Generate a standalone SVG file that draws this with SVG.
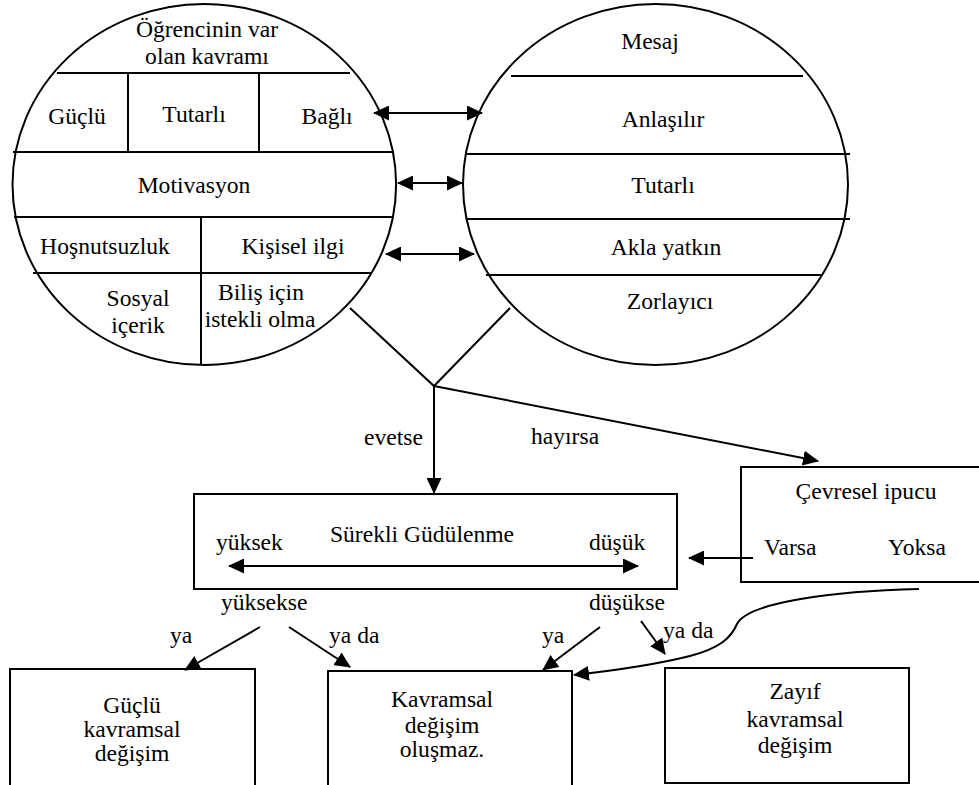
<svg xmlns="http://www.w3.org/2000/svg" width="979" height="785" viewBox="0 0 979 785" font-family="Liberation Serif, serif">
<style>
text{font-family:'Liberation Serif','Times New Roman',serif;font-size:23.6px;fill:#000}
.m{text-anchor:middle}
.ln{stroke:#000;stroke-width:2;fill:none}
.ar{stroke:#000;stroke-width:2;fill:none;marker-end:url(#ah)}
.da{stroke:#000;stroke-width:2;fill:none;marker-start:url(#ah);marker-end:url(#ah)}
</style>
<defs>
<marker id="ah" markerUnits="userSpaceOnUse" markerWidth="16" markerHeight="15" refX="15" refY="7.5" orient="auto-start-reverse">
<path d="M0,0 L16,7.5 L0,15 Z" fill="#000"/>
</marker>
</defs>
<rect width="979" height="785" fill="#fff"/>

<g id="left-circle">
<ellipse class="ln" cx="204.3" cy="184.5" rx="191.8" ry="180.5"/>
<line class="ln" x1="57" y1="73" x2="350" y2="73"/>
<line class="ln" x1="128" y1="73" x2="128" y2="152"/>
<line class="ln" x1="259" y1="73" x2="259" y2="152"/>
<line class="ln" x1="13" y1="152" x2="392" y2="152"/>
<line class="ln" x1="14" y1="217" x2="392" y2="217"/>
<line class="ln" x1="201" y1="217" x2="201" y2="365"/>
<line class="ln" x1="33" y1="273" x2="372" y2="273"/>
<text class="m" x="207" y="37">Öğrencinin var</text>
<text class="m" x="207" y="64">olan kavramı</text>
<text class="m" x="77" y="124">Güçlü</text>
<text class="m" x="194" y="122">Tutarlı</text>
<text class="m" x="327" y="124">Bağlı</text>
<text class="m" x="194" y="193">Motivasyon</text>
<text class="m" x="105" y="254">Hoşnutsuzluk</text>
<text class="m" x="293" y="254">Kişisel ilgi</text>
<text class="m" x="138" y="306">Sosyal</text>
<text class="m" x="138" y="333">içerik</text>
<text class="m" x="261" y="300">Biliş için</text>
<text class="m" x="260" y="327">istekli olma</text>
</g>

<g id="right-circle">
<ellipse class="ln" cx="655.5" cy="184.5" rx="192.5" ry="180.5"/>
<line class="ln" x1="511" y1="76" x2="803" y2="76"/>
<line class="ln" x1="466" y1="154" x2="850" y2="154"/>
<line class="ln" x1="466" y1="219" x2="850" y2="219"/>
<line class="ln" x1="486" y1="275" x2="821" y2="275"/>
<text class="m" x="650" y="49">Mesaj</text>
<text class="m" x="663" y="127">Anlaşılır</text>
<text class="m" x="663" y="193">Tutarlı</text>
<text class="m" x="666" y="255">Akla yatkın</text>
<text class="m" x="670" y="309">Zorlayıcı</text>
</g>

<g id="surekli-gudulenme">
<rect class="ln" x="194" y="494" width="483" height="95"/>
<text class="m" x="422" y="542">Sürekli Güdülenme</text>
<text x="216" y="550">yüksek</text>
<text x="589" y="550">düşük</text>
<line class="da" x1="229" y1="566" x2="638" y2="566"/>
</g>

<g id="cevresel-ipucu">
<rect class="ln" x="741" y="467" width="260" height="115"/>
<text class="m" x="866" y="499">Çevresel ipucu</text>
<text x="764" y="555">Varsa</text>
<text x="888" y="555">Yoksa</text>
</g>

<g id="guclu-degisim">
<rect class="ln" x="10" y="669" width="245" height="130"/>
<text class="m" x="132" y="713">Güçlü</text>
<text class="m" x="132" y="737">kavramsal</text>
<text class="m" x="132" y="761">değişim</text>
</g>

<g id="degisim-olusmaz">
<rect class="ln" x="328" y="671" width="244" height="130"/>
<text class="m" x="442" y="707">Kavramsal</text>
<text class="m" x="442" y="733">değişim</text>
<text class="m" x="442" y="757">oluşmaz.</text>
</g>

<g id="zayif-degisim">
<rect class="ln" x="665" y="668" width="244" height="115"/>
<text class="m" x="795" y="699">Zayıf</text>
<text class="m" x="795" y="727">kavramsal</text>
<text class="m" x="795" y="753">değişim</text>
</g>

<g id="connectors">
<line class="da" x1="374" y1="113" x2="482" y2="113"/>
<line class="da" x1="398" y1="183" x2="462" y2="183"/>
<line class="da" x1="386" y1="254" x2="474" y2="254"/>
<polyline class="ln" points="350,308 434,386 510,308"/>
<line class="ar" x1="434" y1="386" x2="434" y2="493"/>
<line class="ar" x1="434" y1="386" x2="818" y2="461"/>
<line class="ar" x1="753" y1="558" x2="689" y2="558"/>
<line class="ar" x1="260" y1="627" x2="185" y2="670"/>
<line class="ar" x1="289" y1="627" x2="350" y2="667"/>
<line class="ar" x1="600" y1="627" x2="543" y2="670"/>
<line class="ar" x1="641" y1="621" x2="665" y2="654"/>
<path class="ar" d="M919,589 C835,591 748,602 737,624 C731,638 720,648 690,656 C650,666 610,671 574,675"/>
<text x="423" y="445" text-anchor="end">evetse</text>
<text x="531" y="444">hayırsa</text>
<text x="221" y="610">yüksekse</text>
<text x="589" y="610">düşükse</text>
<text x="170" y="643">ya</text>
<text x="329" y="643">ya da</text>
<text x="542" y="643">ya</text>
<text x="663" y="638">ya da</text>
</g>
</svg>
